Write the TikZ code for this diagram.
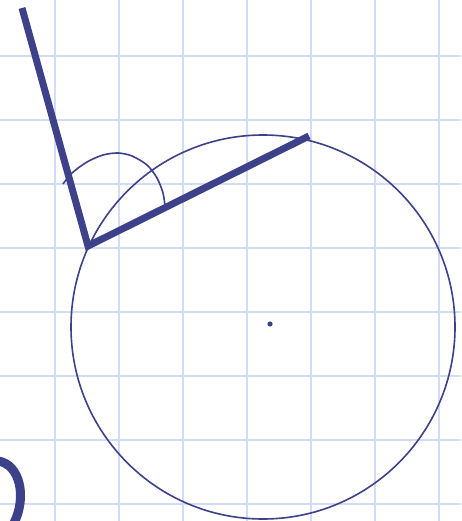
\documentclass[tikz,border=0pt]{standalone}
\begin{document}
\begin{tikzpicture}[x=1pt,y=-1pt,
  gridline/.style={draw=gridblue,line width=2pt},
  thickline/.style={draw=inkblue,line width=7pt,line join=miter},
  thinline/.style={draw=inkblue,line width=1.6pt}]
\definecolor{gridblue}{HTML}{D2DCF8}
\definecolor{inkblue}{HTML}{3C418A}
\useasboundingbox (0,0) rectangle (461,521);
\fill[white] (0,0) rectangle (461,521);
\foreach \x in {55,119,183,247,311,375,439} \draw[gridline] (\x,0) -- (\x,521);
\foreach \y in {56,120,184,248,312,376,440,504} \draw[gridline] (0,\y) -- (461,\y);
\coordinate (top) at (22,8);
\coordinate (v) at (88,246);
\coordinate (e) at (309,136);
\coordinate (c) at (263,327);
\draw[thinline] (c) circle[radius=192];
\fill[inkblue] (270,324) circle[radius=2.6];
\draw[thinline] plot[smooth] coordinates {(63,184) (72,173) (87,162) (103,155) (118,153) (132,156) (147,165) (157,178) (163,193) (165,206)};
\draw[thickline] (top) -- (v) -- (e);
\draw[draw=inkblue,line width=9pt] (-2,461) .. controls (20,464) and (27,497) .. (14,523);
\end{tikzpicture}
\end{document}
